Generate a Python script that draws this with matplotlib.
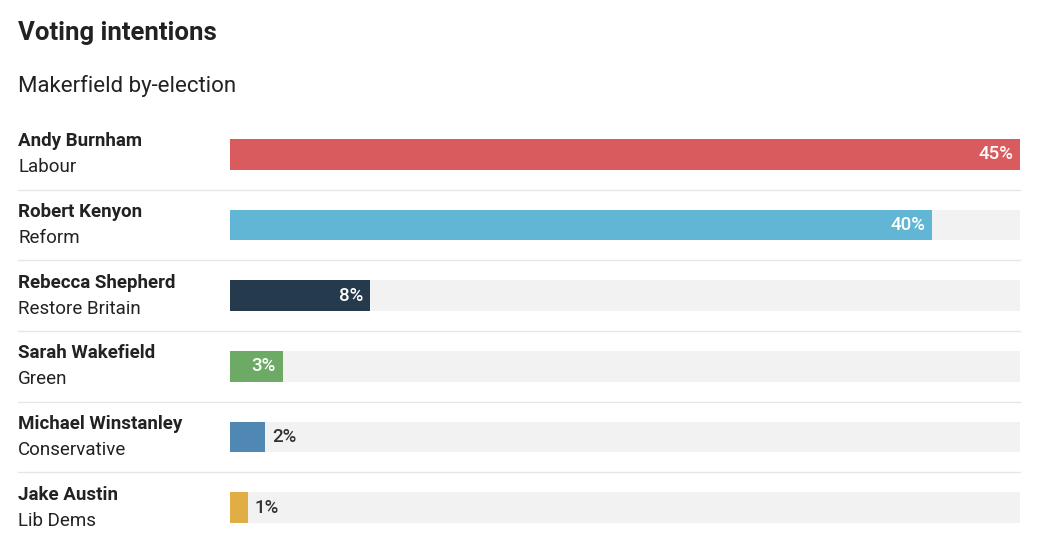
"""
Voting intentions - Makerfield by-election
"""
import matplotlib.pyplot as plt
from matplotlib.lines import Line2D

plt.rcParams['font.family'] = ['Roboto', 'DejaVu Sans']

candidates = ['Andy Burnham', 'Robert Kenyon', 'Rebecca Shepherd',
              'Sarah Wakefield', 'Michael Winstanley', 'Jake Austin']
parties = ['Labour', 'Reform', 'Restore Britain', 'Green', 'Conservative', 'Lib Dems']
shares = [45, 40, 8, 3, 2, 1]
colors = ['#DA5B5D', '#62B6D5', '#263A4E', '#6CAA66', '#4F88B2', '#E1AE45']

W, H = 1044, 557
fig = plt.figure(figsize=(W / 100, H / 100), dpi=100)
fig.patch.set_facecolor('white')

# axes covering the bar area, in pixel terms
top, bottom = 119, 543
ax = fig.add_axes([230 / W, 1 - bottom / H, 790 / W, (bottom - top) / H])
ax.set_xlim(0, 45)
ax.set_ylim(len(shares) - 0.5, -0.5)
ax.axis('off')

ypos = range(len(shares))
ax.barh(ypos, [45] * len(shares), height=0.43, color='#F2F2F2', zorder=1)
ax.barh(ypos, shares, height=0.43, color=colors, zorder=2)

for i, v in enumerate(shares):
    if v >= 3:
        ax.text(v - 0.4, i, f'{v}%', ha='right', va='center', color='white',
                fontsize=13.5, fontweight='medium', zorder=3)
    else:
        ax.text(v + 0.4, i, f'{v}%', ha='left', va='center', color='#333333',
                fontsize=13.5, fontweight='medium', zorder=3)

# Title and subtitle
fig.text(18 / W, 1 - 33 / H, 'Voting intentions', fontsize=18.5, fontweight='bold',
         color='#222222', va='center')
fig.text(18 / W, 1 - 86 / H, 'Makerfield by-election', fontsize=16,
         color='#222222', va='center')

# Row labels and separators
row_h = (bottom - top) / len(shares)
for i, (name, party) in enumerate(zip(candidates, parties)):
    yc = top + row_h * (i + 0.5)
    fig.text(18 / W, 1 - (yc - 13) / H, name, fontsize=13.5, fontweight='bold',
             color='#222222', va='center')
    fig.text(18 / W, 1 - (yc + 13) / H, party, fontsize=13.5,
             color='#222222', va='center')
    if i < len(shares) - 1:
        ysep = 1 - (top + row_h * (i + 1)) / H
        fig.add_artist(Line2D([18 / W, 1020 / W], [ysep, ysep],
                              color='#E6E6E6', lw=1))

plt.savefig('out.png', dpi=100, facecolor='white')
